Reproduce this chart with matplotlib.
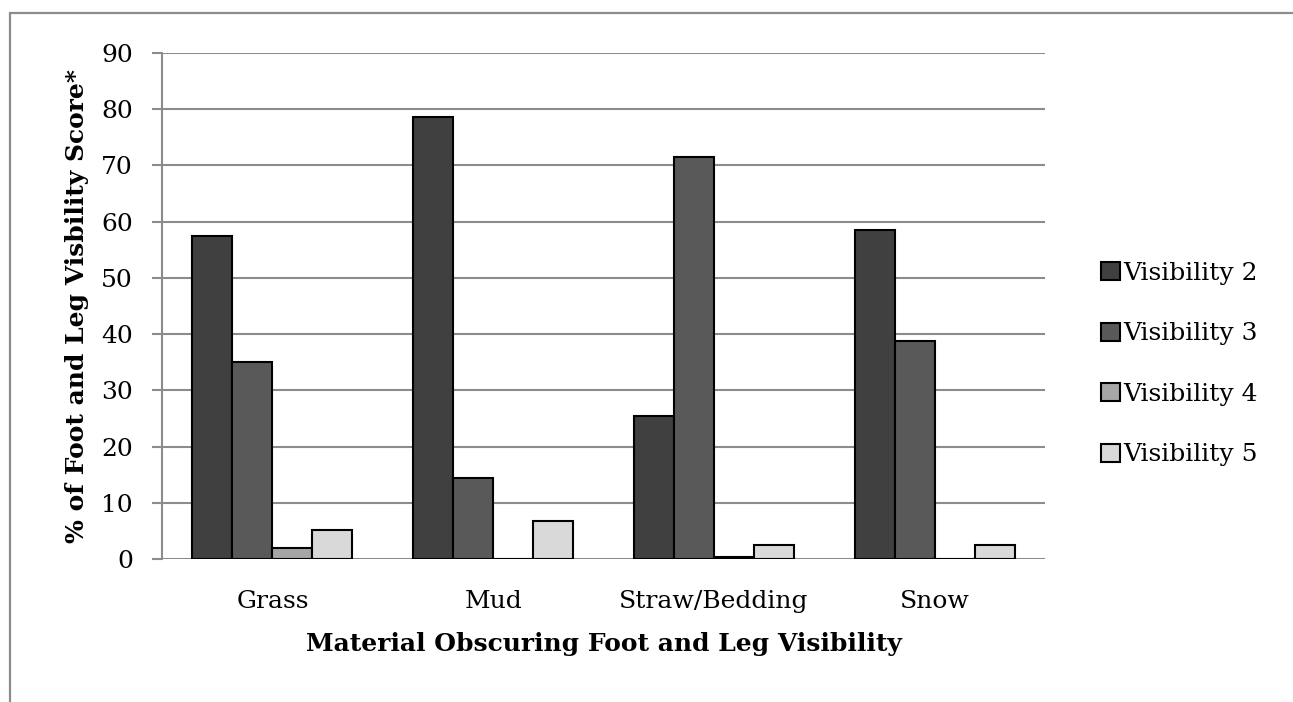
import matplotlib
matplotlib.use("Agg")
import matplotlib.pyplot as plt
import numpy as np
from matplotlib.patches import Rectangle

categories = ["Grass", "Mud", "Straw/Bedding", "Snow"]
series_names = ["Visibility 2", "Visibility 3", "Visibility 4", "Visibility 5"]
vis2 = [57.5, 78.6, 25.4, 58.5]
vis3 = [35.0, 14.4, 71.5, 38.8]
vis4 = [2.0, 0.0, 0.4, 0.0]
vis5 = [5.2, 6.8, 2.5, 2.5]
y_ticks = [0, 10, 20, 30, 40, 50, 60, 70, 80, 90]

colors = ["#404040", "#595959", "#a6a6a6", "#d9d9d9"]
grid_color = "#8c8c8c"

plt.rcParams["font.family"] = ["DejaVu Serif"]
FS = 18

W, H = 1293, 702
fig = plt.figure(figsize=(W / 100, H / 100), dpi=100)

# outer chart frame (top and left edges visible)
fig.patches.append(Rectangle((10 / W, -0.1), 1.2, 1 - 13 / H + 0.1,
                             transform=fig.transFigure, fill=False,
                             edgecolor=grid_color, linewidth=1.6))

ax = fig.add_axes([162 / W, 1 - 559 / H, (1045 - 162) / W, (559 - 53) / H])

x = np.arange(len(categories))
bw = 0.181
series = [vis2, vis3, vis4, vis5]
for i, (vals, name, c) in enumerate(zip(series, series_names, colors)):
    ax.bar(x + (i - 1.5) * bw, vals, width=bw, color=c, edgecolor="black",
           linewidth=1.5, label=name, zorder=3)

ax.set_xlim(-0.5, len(categories) - 0.5)
ax.set_ylim(0, 90)
ax.set_yticks(y_ticks)
ax.set_xticks(x)
ax.set_xticklabels(categories, fontsize=FS)
ax.tick_params(axis="x", length=0, pad=22)
ax.tick_params(axis="y", length=7, width=1.5, color=grid_color, pad=14, labelsize=FS)
ax.yaxis.grid(True, color=grid_color, linewidth=1.5, zorder=0)
ax.set_axisbelow(True)
for s in ["top", "right", "bottom"]:
    ax.spines[s].set_visible(False)
ax.spines["left"].set_color(grid_color)
ax.spines["left"].set_linewidth(1.5)

ax.set_xlabel("Material Obscuring Foot and Leg Visibility", fontsize=FS,
              fontweight="bold", labelpad=14)
ax.set_ylabel("% of Foot and Leg Visbility Score*", fontsize=FS,
              fontweight="bold", labelpad=9)

ax.legend(loc="center left", bbox_to_anchor=(1.052, 0.385), frameon=False,
          fontsize=FS, handlelength=0.75, handleheight=0.75, handletextpad=0.15,
          labelspacing=1.5, borderaxespad=0)

fig.savefig("out.png", dpi=100)
